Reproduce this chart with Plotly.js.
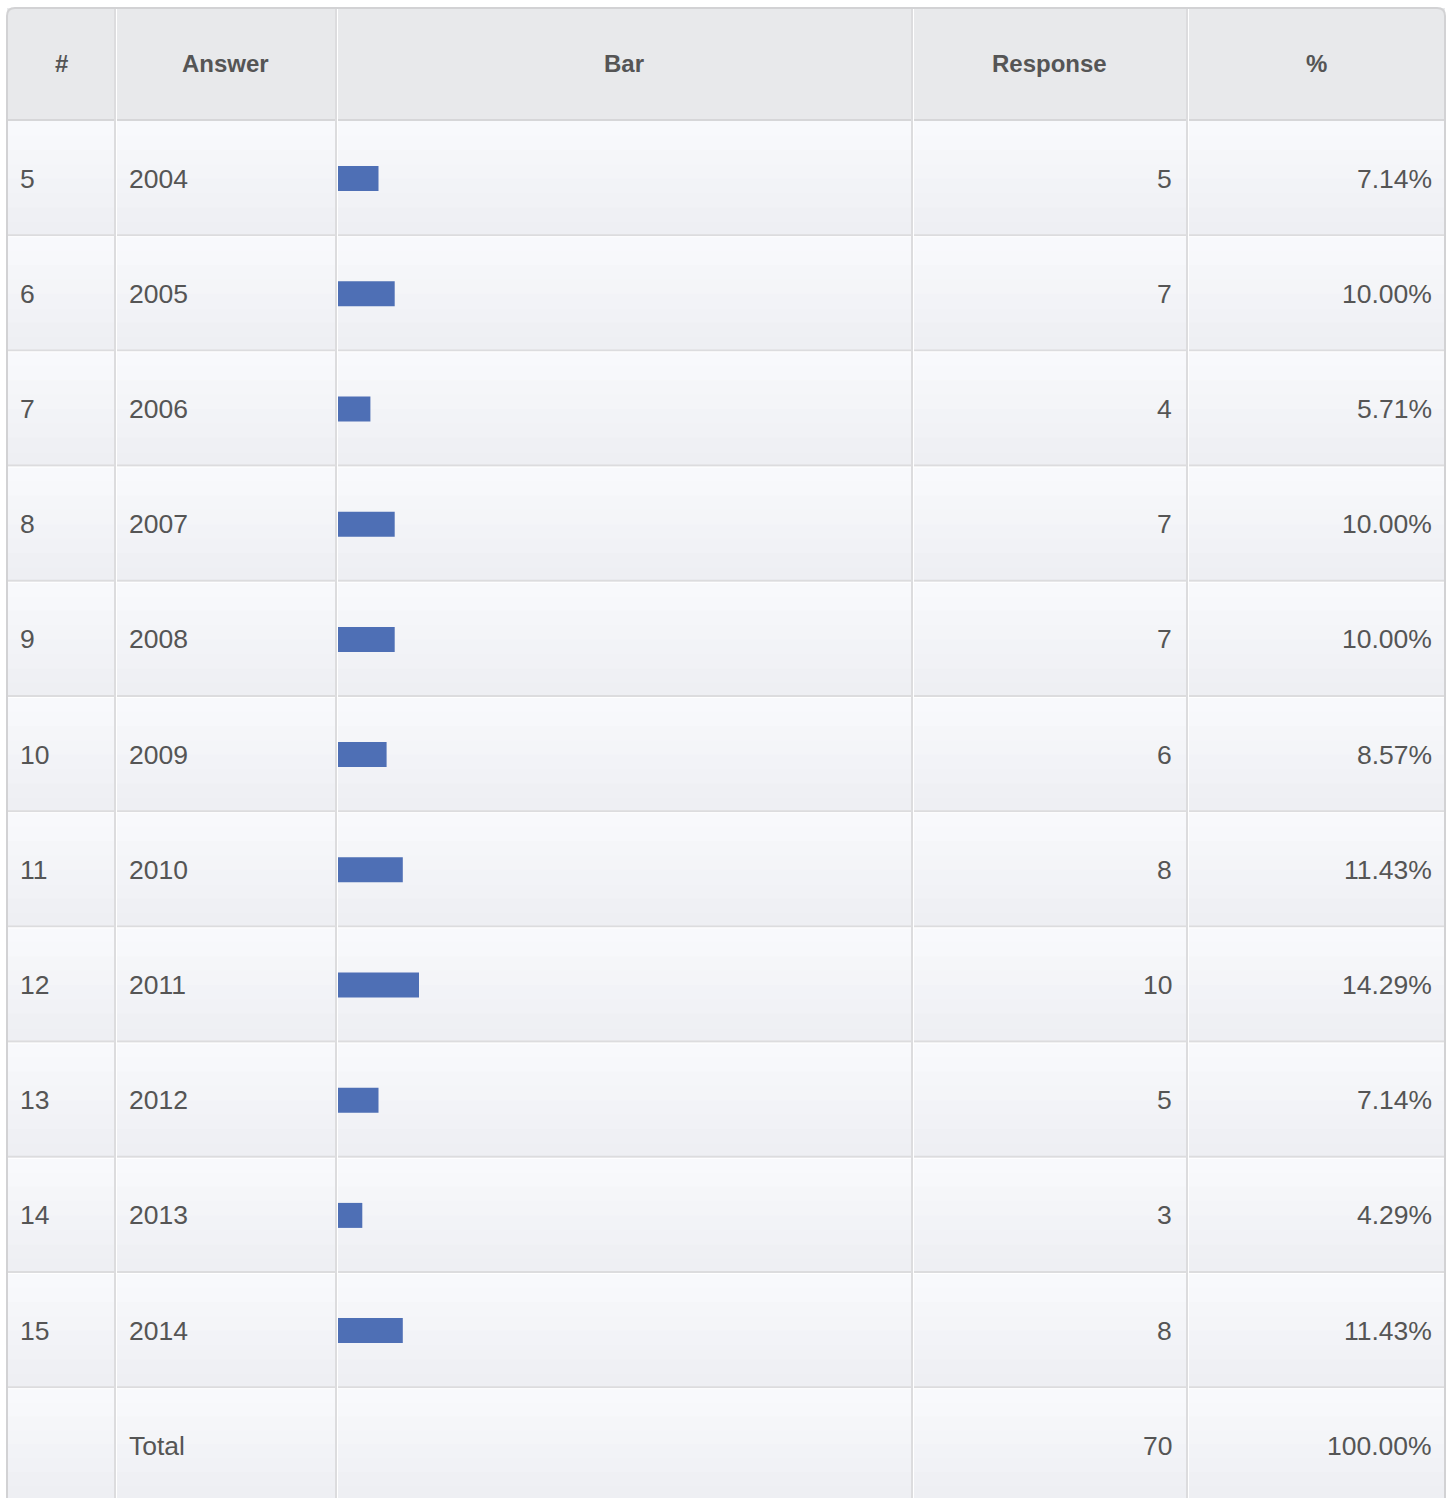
<!DOCTYPE html>
<html>
<head>
<meta charset="utf-8">
<script src="https://cdn.plot.ly/plotly-3.0.1.min.js"></script>
<style>html,body{margin:0;padding:0;background:#fff;}#chart{width:1454px;height:1498px;}</style>
</head>
<body>
<div id="chart"></div>
<script>
// ---- data ----
var rowIds = [5, 6, 7, 8, 9, 10, 11, 12, 13, 14, 15];
var answers = ['2004', '2005', '2006', '2007', '2008', '2009', '2010', '2011', '2012', '2013', '2014'];
var responses = [5, 7, 4, 7, 7, 6, 8, 10, 5, 3, 8];
var percents = ['7.14%', '10.00%', '5.71%', '10.00%', '10.00%', '8.57%', '11.43%', '14.29%', '7.14%', '4.29%', '11.43%'];
var headers = ['#', 'Answer', 'Bar', 'Response', '%'];
var totalLabel = 'Total';
var totalResponses = 70;
var totalPercent = '100.00%';

// ---- layout geometry (pixels) ----
var W = 1454, H = 1498;
var colEdges = [7, 115, 336, 912, 1187, 1445];
var headTop = 8, headBot = 120;
var rowTop = 121, rowH = 115.2;
var nRows = answers.length;
var dataBot = rowTop + rowH * nRows; // ~1388
var totalBot = H + 2;
var font = 'Liberation Sans, Arial, Helvetica, sans-serif';
var txtColor = '#555555';

var shapes = [];
function rect(x0, y0, x1, y1, fill) {
  shapes.push({type: 'rect', xref: 'x', yref: 'y', x0: x0, x1: x1, y0: y0, y1: y1,
    fillcolor: fill, line: {width: 0}, layer: 'below'});
}
function line(x0, y0, x1, y1, color, w) {
  shapes.push({type: 'line', xref: 'x', yref: 'y', x0: x0, x1: x1, y0: y0, y1: y1,
    line: {color: color, width: w}, layer: 'below'});
}
function lerp(a, b, t) { return Math.round(a + (b - a) * t); }
function band(y0, y1) {
  var n = 8;
  var c0 = [248, 249, 252], c1 = [238, 239, 243];
  for (var k = 0; k < n; k++) {
    var t = k / (n - 1);
    var c = 'rgb(' + lerp(c0[0], c1[0], t) + ',' + lerp(c0[1], c1[1], t) + ',' + lerp(c0[2], c1[2], t) + ')';
    rect(colEdges[0], y0 + (y1 - y0) * k / n, colEdges[5], y0 + (y1 - y0) * (k + 1) / n + 0.5, c);
  }
}
// header
rect(colEdges[0], headTop, colEdges[5], headBot, '#e8e9eb');
// body rows
for (var r = 0; r < nRows; r++) band(rowTop + r * rowH, rowTop + (r + 1) * rowH);
band(dataBot, totalBot);
// horizontal separators
line(colEdges[0], headBot, colEdges[5], headBot, '#d6d6d8', 2);
for (var r2 = 1; r2 <= nRows; r2++) {
  var yy = rowTop + r2 * rowH - 1;
  line(colEdges[0], yy, colEdges[5], yy, '#dcdcde', 2);
  line(colEdges[0], yy + 1.5, colEdges[5], yy + 1.5, '#ffffff', 1);
}
// vertical separators
for (var c = 1; c < colEdges.length - 1; c++) {
  line(colEdges[c], headTop, colEdges[c], totalBot, '#dcdcde', 2);
  line(colEdges[c] + 1.5, headTop, colEdges[c] + 1.5, totalBot, '#ffffff', 1);
}
// outer border with rounded top corners
shapes.push({type: 'path', xref: 'x', yref: 'y', layer: 'below',
  path: 'M ' + colEdges[0] + ',' + totalBot + ' L ' + colEdges[0] + ',' + (headTop + 8) +
        ' Q ' + colEdges[0] + ',' + headTop + ' ' + (colEdges[0] + 8) + ',' + headTop +
        ' L ' + (colEdges[5] - 8) + ',' + headTop +
        ' Q ' + colEdges[5] + ',' + headTop + ' ' + colEdges[5] + ',' + (headTop + 8) +
        ' L ' + colEdges[5] + ',' + totalBot,
  line: {color: '#d2d2d4', width: 2}});

// ---- annotations ----
var ann = [];
var fs = 26.5;
for (var h = 0; h < headers.length; h++) {
  ann.push({xref: 'x', yref: 'y', x: (colEdges[h] + colEdges[h + 1]) / 2, y: (headTop + headBot) / 2 - 1,
    text: headers[h], showarrow: false, xanchor: 'center', yanchor: 'middle',
    font: {family: font, size: 24, color: txtColor, weight: 'bold'}});
}
// row texts: y is the category index on the bar chart's category axis
for (var i = 0; i < nRows; i++) {
  ann.push({xref: 'x', yref: 'y2', x: 18, y: i, text: String(rowIds[i]), showarrow: false,
    xanchor: 'left', yanchor: 'middle', font: {family: font, size: fs, color: txtColor}});
  ann.push({xref: 'x', yref: 'y2', x: 127, y: i, text: answers[i], showarrow: false,
    xanchor: 'left', yanchor: 'middle', font: {family: font, size: fs, color: txtColor}});
  ann.push({xref: 'x', yref: 'y2', x: 1174, y: i, text: String(responses[i]), showarrow: false,
    xanchor: 'right', yanchor: 'middle', font: {family: font, size: fs, color: txtColor}});
  ann.push({xref: 'x', yref: 'y2', x: 1434, y: i, text: percents[i], showarrow: false,
    xanchor: 'right', yanchor: 'middle', font: {family: font, size: fs, color: txtColor}});
}
var totY = dataBot + 58;
ann.push({xref: 'x', yref: 'y', x: 127, y: totY, text: totalLabel, showarrow: false,
  xanchor: 'left', yanchor: 'middle', font: {family: font, size: fs, color: txtColor}});
ann.push({xref: 'x', yref: 'y', x: 1174, y: totY, text: String(totalResponses), showarrow: false,
  xanchor: 'right', yanchor: 'middle', font: {family: font, size: fs, color: txtColor}});
ann.push({xref: 'x', yref: 'y', x: 1434, y: totY, text: totalPercent, showarrow: false,
  xanchor: 'right', yanchor: 'middle', font: {family: font, size: fs, color: txtColor}});

// ---- traces ----
var frame = {x: [0, W], y: [0, H], type: 'scatter', mode: 'markers', marker: {opacity: 0},
  hoverinfo: 'skip', showlegend: false, xaxis: 'x', yaxis: 'y'};
var bars = {type: 'bar', orientation: 'h', x: responses, y: answers, xaxis: 'x2', yaxis: 'y2',
  marker: {color: '#4e6fb5'}, hoverinfo: 'x+y', showlegend: false};

var layout = {
  width: W, height: H,
  margin: {l: 0, r: 0, t: 0, b: 0, pad: 0},
  paper_bgcolor: '#ffffff', plot_bgcolor: 'rgba(0,0,0,0)',
  showlegend: false,
  bargap: 0.783,
  xaxis: {domain: [0, 1], range: [0, W], visible: false, fixedrange: true},
  yaxis: {domain: [0, 1], range: [H, 0], visible: false, fixedrange: true},
  xaxis2: {domain: [338 / W, 905 / W], range: [0, totalResponses], visible: false, fixedrange: true, anchor: 'y2'},
  yaxis2: {domain: [1 - dataBot / H, 1 - rowTop / H], type: 'category', categoryorder: 'array',
    categoryarray: answers, range: [nRows - 0.5, -0.5], autorange: false, visible: false, fixedrange: true, anchor: 'x2'},
  shapes: shapes,
  annotations: ann
};
Plotly.newPlot('chart', [frame, bars], layout, {displayModeBar: false, staticPlot: true});
</script>
</body>
</html>
